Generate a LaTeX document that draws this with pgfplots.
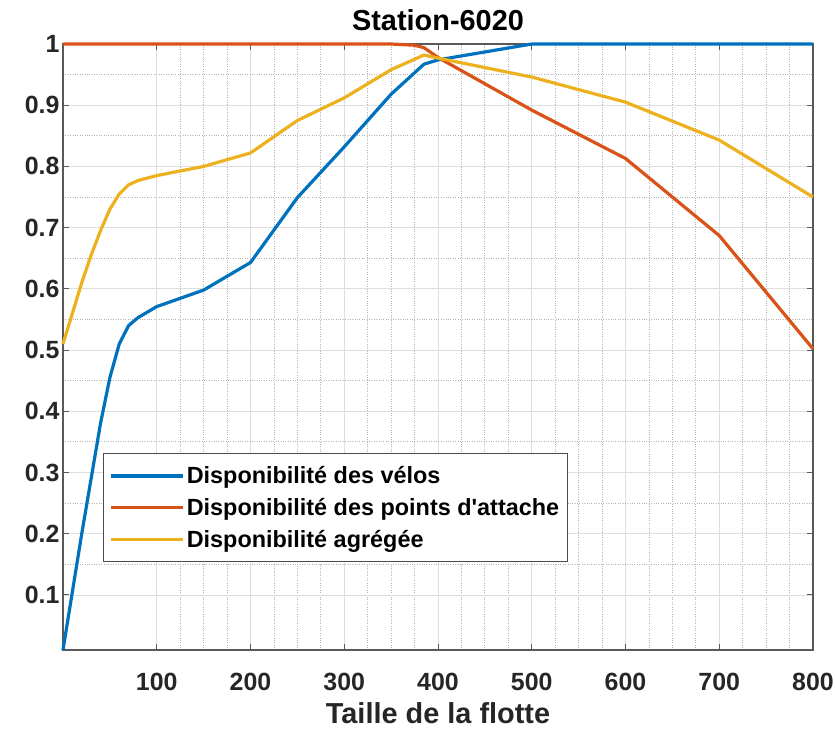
\documentclass[border=0pt]{standalone}
\usepackage{pgfplots}
\pgfplotsset{compat=1.18}
\usepackage{fontspec}
\setmainfont{Liberation Sans}
\newfontfamily\legfont{Liberation Sans}
\definecolor{mblue}{rgb}{0,0.447,0.741}
\definecolor{mred}{rgb}{0.850,0.325,0.098}
\definecolor{myellow}{rgb}{0.929,0.694,0.125}
\definecolor{axgray}{rgb}{0.15,0.15,0.15}
\begin{document}
\begin{tikzpicture}
\begin{axis}[
  scale only axis,
  width=750bp, height=606bp,
  xmin=0, xmax=800, ymin=0.01, ymax=1,
  xtick={100,200,300,400,500,600,700,800},
  ytick={0.1,0.2,0.3,0.4,0.5,0.6,0.7,0.8,0.9,1},
  yticklabels={0.1,0.2,0.3,0.4,0.5,0.6,0.7,0.8,0.9,1},
  minor x tick num=3,
  minor y tick num=1,
  minor tick length=0pt,
  major tick length=6bp,
  tick align=inside,
  tick style={color=black!65, line width=1bp},
  grid=both,
  major grid style={color=black!13, line width=0.8bp},
  minor grid style={color=black!30, dotted, line width=0.8bp},
  axis line style={color=black!65, line width=1.2bp},
  /pgf/number format/assume math mode=true,
  ticklabel style={font=\fontsize{25}{25}\selectfont\bfseries, color=axgray},
  xticklabel style={yshift=-20bp},
  yticklabel style={xshift=0bp},
  title={\textbf{Station-6020}},
  title style={font=\fontsize{29}{29}\selectfont, yshift=4bp},
  xlabel={\textbf{Taille de la flotte}},
  xlabel style={font=\fontsize{29}{29}\selectfont, color=axgray, yshift=-5bp},
  clip=false,
  every axis plot/.append style={line width=3.2bp, line join=round},
  legend cell align=left,
  legend image code/.code={\draw[#1] (0bp,0bp) -- (72bp,0bp);},
  legend style={at={(0.0533,0.325)}, anchor=north west,
    font=\fontsize{23.5}{23.5}\legfont\bfseries,
    draw=black!70, line width=1.2bp, inner xsep=6bp, inner ysep=11bp,
    row sep=9bp},
]
\addplot[mblue] coordinates {
(0,0.01) (10,0.105) (20,0.20) (30,0.29) (40,0.38) (50,0.455) (60,0.51) (70,0.54) (80,0.553)
(100,0.571) (150,0.598) (200,0.643) (250,0.749) (300,0.832) (350,0.918) (385,0.967)
(400,0.974) (500,1.0) (600,1) (700,1) (800,1)};
\addlegendentry{Disponibilité des vélos}
\addplot[mred] coordinates {
(0,1) (350,1) (375,0.998) (385,0.994) (400,0.978) (500,0.892) (600,0.813) (700,0.687) (800,0.502)};
\addlegendentry{Disponibilité des points d'attache}
\addplot[myellow] coordinates {
(0,0.51) (10,0.56) (20,0.61) (30,0.655) (40,0.695) (50,0.73) (60,0.755) (70,0.77) (80,0.777)
(100,0.785) (150,0.80) (200,0.822) (250,0.875) (300,0.912) (350,0.958) (385,0.982)
(400,0.977) (500,0.946) (600,0.905) (700,0.843) (800,0.75)};
\addlegendentry{Disponibilité agrégée}
\end{axis}
\pgfresetboundingbox
\path (-63bp,-81bp) rectangle (772bp,650bp);
\end{tikzpicture}
\end{document}
